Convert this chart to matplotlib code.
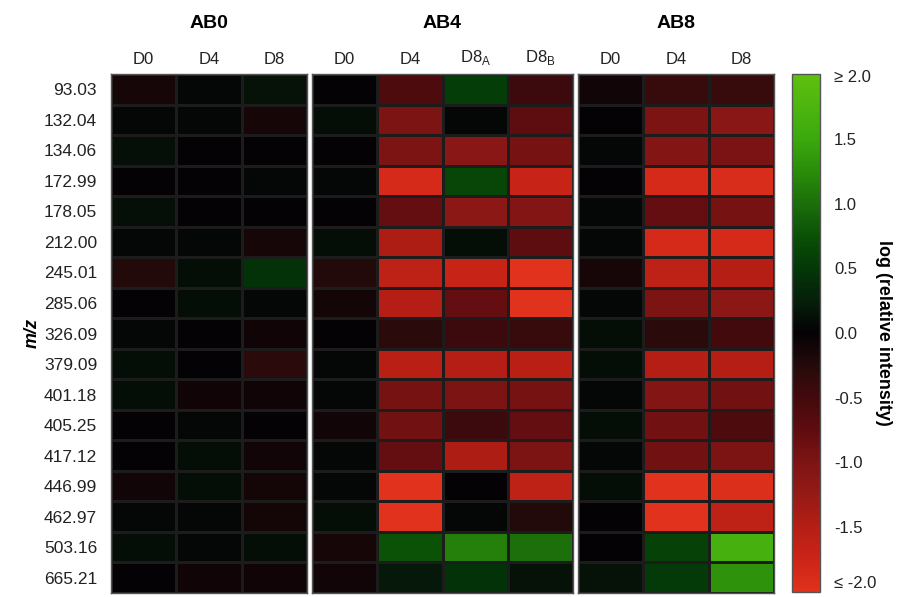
import numpy as np
import matplotlib
matplotlib.use("Agg")
import matplotlib.pyplot as plt
import matplotlib.transforms as mtransforms
from matplotlib.colors import LinearSegmentedColormap, Normalize

plt.rcParams['font.family'] = ['Liberation Sans', 'DejaVu Sans']

mz_labels = ["93.03", "132.04", "134.06", "172.99", "178.05", "212.00", "245.01",
             "285.06", "326.09", "379.09", "401.18", "405.25", "417.12", "446.99",
             "462.97", "503.16", "665.21"]

groups = ["AB0", "AB4", "AB8"]
cols_ab0 = ["D0", "D4", "D8"]
cols_ab4 = ["D0", "D4", "D8$_\\mathregular{A}$", "D8$_\\mathregular{B}$"]
cols_ab8 = ["D0", "D4", "D8"]

# log(relative intensity), rows follow mz_labels
ab0 = [
    [-0.15, 0.05, 0.15],
    [0.05, 0.05, -0.15],
    [0.12, 0.0, 0.0],
    [0.0, 0.0, 0.05],
    [0.12, 0.0, 0.0],
    [0.05, 0.05, -0.15],
    [-0.25, 0.10, 0.45],
    [0.0, 0.10, 0.05],
    [0.05, 0.0, -0.08],
    [0.10, 0.0, -0.30],
    [0.10, -0.08, -0.08],
    [0.0, 0.05, 0.0],
    [0.0, 0.10, -0.10],
    [-0.10, 0.10, -0.12],
    [0.05, 0.05, -0.12],
    [0.10, 0.05, 0.10],
    [0.0, -0.08, -0.08],
]
ab4 = [
    [0.0, -0.60, 0.55, -0.45],
    [0.10, -1.00, 0.05, -0.75],
    [0.0, -1.00, -1.10, -0.95],
    [0.05, -1.85, 0.65, -1.70],
    [0.0, -0.80, -1.15, -1.05],
    [0.10, -1.45, 0.10, -0.75],
    [-0.25, -1.60, -1.70, -2.00],
    [-0.12, -1.50, -0.80, -2.00],
    [0.0, -0.30, -0.45, -0.40],
    [0.05, -1.55, -1.50, -1.55],
    [0.05, -0.95, -1.00, -0.95],
    [-0.10, -0.90, -0.45, -0.80],
    [0.05, -0.80, -1.45, -1.00],
    [0.05, -2.00, 0.0, -1.60],
    [0.10, -2.00, 0.05, -0.25],
    [-0.15, 0.75, 1.15, 1.00],
    [-0.10, 0.20, 0.45, 0.15],
]
ab8 = [
    [-0.10, -0.40, -0.40],
    [0.0, -1.00, -1.10],
    [0.05, -1.05, -0.98],
    [0.0, -1.85, -1.90],
    [0.05, -0.80, -0.95],
    [0.05, -1.85, -1.85],
    [-0.15, -1.60, -1.50],
    [0.05, -1.00, -1.15],
    [0.10, -0.30, -0.50],
    [0.10, -1.50, -1.50],
    [0.05, -1.05, -0.90],
    [0.10, -0.90, -0.60],
    [0.05, -0.90, -1.00],
    [0.10, -2.00, -1.95],
    [0.0, -2.00, -1.60],
    [0.0, 0.60, 1.65],
    [0.15, 0.50, 1.30],
]

cb_ticks = [1.5, 1.0, 0.5, 0.0, -0.5, -1.0, -1.5]
cb_ticklabels = ["1.5", "1.0", "0.5", "0.0", "-0.5", "-1.0", "-1.5"]
cb_top_label = "\u2265 2.0"
cb_bottom_label = "\u2264 -2.0"

stops = [(-2.0, "#e0321c"), (-1.75, "#cc2418"), (-1.5, "#b41e14"), (-1.25, "#951a16"),
         (-1.0, "#7e1414"), (-0.75, "#5e0c10"), (-0.5, "#430a0d"), (-0.25, "#240a0a"),
         (0.0, "#050105"), (0.25, "#061e0a"), (0.5, "#043808"), (0.75, "#0a5006"),
         (1.0, "#1b6e0a"), (1.25, "#2a8c0a"), (1.5, "#3aa80e"), (1.75, "#4cb50e"),
         (2.0, "#5fc00e")]
cmap = LinearSegmentedColormap.from_list(
    "rg", [((v + 2) / 4, c) for v, c in stops], N=256)
norm = Normalize(vmin=-2, vmax=2)

fig = plt.figure(figsize=(9.03, 5.97), dpi=100)
W, H = 903, 597
top, bottom = 74, 593
panels = [(ab0, cols_ab0, 111, 307), (ab4, cols_ab4, 312, 573), (ab8, cols_ab8, 578, 774)]

for gi, (data, cols, x0, x1) in enumerate(panels):
    ax = fig.add_axes([x0 / W, (H - bottom) / H, (x1 - x0) / W, (bottom - top) / H])
    arr = np.array(data)
    ax.pcolormesh(arr, cmap=cmap, norm=norm, edgecolors="#1c1c1c", linewidth=0.9)
    ax.set_xlim(0, arr.shape[1])
    ax.set_ylim(arr.shape[0], 0)
    ax.set_xticks(np.arange(arr.shape[1]) + 0.5)
    ax.set_xticklabels(cols, fontsize=12, color="#222222")
    ax.xaxis.tick_top()
    ax.tick_params(axis="x", length=0, pad=5)
    if gi == 0:
        ax.set_yticks(np.arange(arr.shape[0]) + 0.5)
        ax.set_yticklabels(mz_labels, fontsize=12.5, color="#222222")
        ax.tick_params(axis="y", length=0, pad=10)
        ax.set_ylabel("m/z", fontsize=13, fontweight="bold", style="italic", labelpad=2)
    else:
        ax.set_yticks([])
    ax.set_title(groups[gi], fontsize=14, fontweight="bold", pad=33)
    for s in ax.spines.values():
        s.set_color("#555555")
        s.set_linewidth(1.0)

cax = fig.add_axes([792 / W, (H - 592) / H, 28 / W, (592 - 74) / H])
sm = plt.cm.ScalarMappable(norm=norm, cmap=cmap)
cb = fig.colorbar(sm, cax=cax, ticks=cb_ticks)
cb.set_ticklabels(cb_ticklabels)
cb.ax.tick_params(length=0, labelsize=12, pad=10, colors="#222222")
cb.outline.set_edgecolor("#555555")
cb.outline.set_linewidth(1.0)
off = mtransforms.ScaledTranslation(10 / 72, 0, fig.dpi_scale_trans)
cax.text(1.0, 1.0 - 3 / 518, cb_top_label, transform=cax.transAxes + off, ha="left",
         va="center", fontsize=12, color="#222222")
cax.text(1.0, 8 / 518, cb_bottom_label, transform=cax.transAxes + off, ha="left",
         va="center", fontsize=12, color="#222222")
cb.set_label("log (relative intensity)", fontsize=13, fontweight="bold",
             rotation=-90, labelpad=21)

fig.savefig("out.png", dpi=100)
